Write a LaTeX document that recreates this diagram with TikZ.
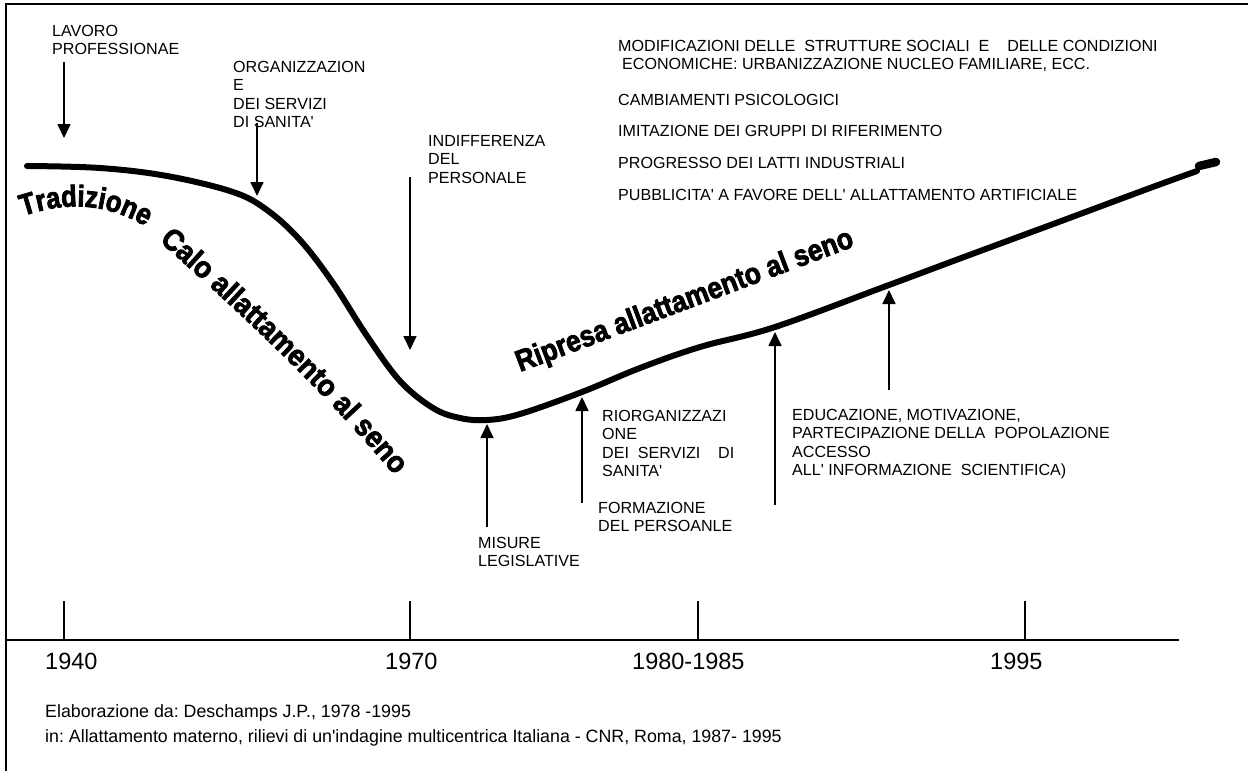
\documentclass[tikz,border=0pt]{standalone}
\usepackage{fontspec}
\setmainfont{Liberation Sans}
\newfontfamily\waA{Liberation Sans Bold}[FakeBold=2.5,FakeStretch=0.85]
\newfontfamily\waB{Liberation Sans Bold}[FakeBold=2.5,FakeStretch=0.92]
\newfontfamily\waC{Liberation Sans Bold}[FakeBold=2.5,FakeStretch=0.88]
\usetikzlibrary{arrows.meta,decorations.text}
\newcommand{\ap}{\textquotesingle}
\frenchspacing
\begin{document}
\begin{tikzpicture}[x=1pt,y=-1pt,
  lbl/.style={anchor=north west, inner sep=0pt, align=left, font=\fontsize{16.1}{18.5}\selectfont},
  arr/.style={line width=1.7pt, -{Triangle[width=13pt,length=14pt]}},
  frameline/.style={line width=2pt},
  tickline/.style={line width=1.3pt},
  yr/.style={anchor=base west, inner sep=0pt, font=\fontsize{23.5}{28}\selectfont},
  note/.style={anchor=base west, inner sep=0pt, font=\fontsize{17.8}{20}\selectfont},
  trend/.style={line width=6pt, line cap=round, line join=round},
  wa/.style={anchor=base west, inner sep=0pt, font=\fontsize{30}{30}\waC}]

\useasboundingbox (0,0) rectangle (1248,771);

% frame and axis
\draw[frameline] (1248,4) -- (6,4) -- (6,771);
\coordinate (ax0) at (6,640);
\coordinate (ax1) at (1179,640);
\draw[line width=2.5pt] (ax0) -- (ax1);
\foreach \x in {64,410,698,1025}{\draw[tickline] (\x,601) -- (\x,640);}

% year labels
\node[yr] (y1940) at (45,669) {1940};
\node[yr] (y1970) at (385,669) {1970};
\node[yr] (y1980) at (632,669) {1980-1985};
\node[yr] (y1995) at (990,669) {1995};

% footnote
\node[note] (n1) at (45,717) {Elaborazione da: Deschamps J.P., 1978 -1995};
\node[note] (n2) at (45,742) {in: Allattamento materno, rilievi di un\ap indagine multicentrica Italiana - CNR, Roma, 1987- 1995};

% trend curve
\draw[trend] plot[smooth, tension=0.6] coordinates {
  (27,166) (100,168) (167,176) (233,192) (267,210) (300,240) (333,283)
  (367,336) (400,381) (433,408) (460,418) (487,420) (520,414) (582,392)
  (640,368) (700,347) (775,327) (889,285) (960,258.5) (1060,221.5) (1150,188) (1197,171)};
\draw[line width=8.5pt, line cap=round] (1199,166) -- (1216,162);

% curved labels
\path[decorate, decoration={text along path,
   text={|\fontsize{30}{30}\waA|Tradizione}}]
   (23,216) .. controls (62,203) and (108,198) .. (160,236);
\path[decorate, decoration={text along path,
   text={|\fontsize{30}{30}\waB|Calo allattamento al seno}}]
   (159,241) .. controls (240,313) and (330,395) .. (415,500);
\node[wa, rotate=20.6] (ripresa) at (520,372) {Ripresa allattamento al seno};

% labels
\node[lbl] (lavoro) at (52,25) {LAVORO\\PROFESSIONAE};
\node[lbl] (organ) at (233,61) {ORGANIZZAZION\\E\\DEI SERVIZI\\DI SANITA\ap};
\node[lbl] (indiff) at (428,135) {INDIFFERENZA\\DEL\\PERSONALE};
\node[lbl] (misure) at (478,537) {MISURE\\LEGISLATIVE};
\node[lbl] (riorg) at (602,410) {RIORGANIZZAZI\\ONE\\DEI\ \ SERVIZI\ \ \ \ DI\\SANITA\ap};
\node[lbl] (form) at (598,502) {FORMAZIONE\\DEL PERSOANLE};
\node[lbl] (educ) at (792,409) {EDUCAZIONE, MOTIVAZIONE,\\PARTECIPAZIONE DELLA\ \ POPOLAZIONE\\ACCESSO\\ALL\ap{} INFORMAZIONE\ \ SCIENTIFICA)};

\node[lbl] (modif) at (618,40) {MODIFICAZIONI DELLE\ \ STRUTTURE SOCIALI\ \ E\ \ \ \ DELLE CONDIZIONI\\\hspace*{4pt}ECONOMICHE: URBANIZZAZIONE NUCLEO FAMILIARE, ECC.};
\node[lbl] (psico) at (618,94) {CAMBIAMENTI PSICOLOGICI};
\node[lbl] (imit) at (618,125) {IMITAZIONE DEI GRUPPI DI RIFERIMENTO};
\node[lbl] (progr) at (618,157) {PROGRESSO DEI LATTI INDUSTRIALI};
\node[lbl] (pubbl) at (618,189) {PUBBLICITA\ap{} A FAVORE DELL\ap{} ALLATTAMENTO ARTIFICIALE};

% arrows
\coordinate (a1s) at (64,62);   \coordinate (a1e) at (64,138);
\coordinate (a2s) at (257,123); \coordinate (a2e) at (257,196);
\coordinate (a3s) at (410,177); \coordinate (a3e) at (410,350);
\coordinate (a4s) at (487,527); \coordinate (a4e) at (487,424);
\coordinate (a5s) at (582,503); \coordinate (a5e) at (582,397);
\coordinate (a6s) at (775,505); \coordinate (a6e) at (775,332);
\coordinate (a7s) at (889,390); \coordinate (a7e) at (889,290);
\draw[arr] (a1s) -- (a1e);
\draw[arr] (a2s) -- (a2e);
\draw[arr] (a3s) -- (a3e);
\draw[arr] (a4s) -- (a4e);
\draw[arr] (a5s) -- (a5e);
\draw[arr] (a6s) -- (a6e);
\draw[arr] (a7s) -- (a7e);
\end{tikzpicture}
\end{document}
